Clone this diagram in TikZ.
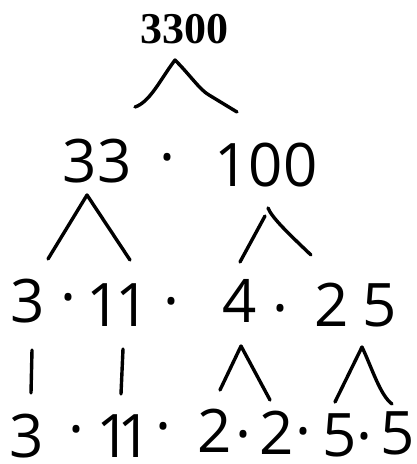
\documentclass[tikz,border=0pt]{standalone}
\usepackage{fontspec}
\setmainfont{Open Sans}
\newfontfamily\titlefont{Liberation Serif}
\begin{document}
\begin{tikzpicture}[x=1pt,y=-1pt,
  num/.style={anchor=base,inner sep=0pt,font=\fontsize{60}{60}\selectfont},
  title/.style={anchor=base,inner sep=0pt,font=\titlefont\bfseries\fontsize{44}{44}\selectfont},
  stroke/.style={line width=3.4pt,line cap=round,line join=round}]
\useasboundingbox (0,0) rectangle (417,464);
% title
\node[title] (n3300) at (184,43) {3300};
% row 2
\node[num] (n33) at (97,182) {33};
\node[num] (d21) at (167,178) {·};
\node[num] (n100) at (266,186) {100};
% row 3
\node[num] (r3a) at (28,322) {3};
\node[num] (d31) at (68,318) {·};
\node[num] (r3b) at (118,326) {1\kern-6pt1};
\node[num] (d32) at (171,322) {·};
\node[num] (r3c) at (240,322) {4};
\node[num] (d33) at (280,329) {·};
\node[num] (r3d) at (356,326) {2\kern14pt5};
% row 4
\node[num] (r4a) at (27,457) {3};
\node[num] (d41) at (76,450) {·};
\node[num] (r4b) at (124,457) {1\kern-13pt1};
\node[num] (d42) at (163,447) {·};
\node[num] (r4c) at (215,452) {2};
\node[num] (d43) at (243,455) {·};
\node[num] (r4d) at (277,454) {2};
\node[num] (d44) at (303,452) {·};
\node[num] (r4e) at (340,456) {5};
\node[num] (d45) at (364,457) {·};
\node[num] (r4f) at (398,454) {5};
% connectors
\coordinate (a0) at (175,60); \coordinate (a0l) at (135,107); \coordinate (a0r) at (237,112);
\draw[stroke] (a0l) .. controls (150,102) and (160,80) .. (a0) .. controls (190,75) and (200,90) .. (209,95) -- (a0r);
\coordinate (a1) at (87,195); \coordinate (a1l) at (48,259); \coordinate (a1r) at (130,260);
\draw[stroke] (a1l) -- (a1) -- (a1r);
\coordinate (a2) at (268,208); \coordinate (a2s) at (265,216); \coordinate (a2l) at (240,262); \coordinate (a2r) at (311,255);
\draw[stroke] (a2s) -- (a2l);
\draw[stroke] (a2) .. controls (272,218) and (290,235) .. (a2r);
\coordinate (v1t) at (32,350); \coordinate (v1b) at (31,393);
\draw[stroke] (v1t) -- (v1b);
\coordinate (v2t) at (123,349); \coordinate (v2b) at (121,394);
\draw[stroke] (v2t) -- (v2b);
\coordinate (a3) at (241,346); \coordinate (a3l) at (220,390); \coordinate (a3r) at (270,400);
\draw[stroke] (a3l) -- (a3) -- (a3r);
\coordinate (a4) at (362,347); \coordinate (a4l) at (335,402); \coordinate (a4r) at (392,404);
\draw[stroke] (a4l) -- (a4) .. controls (372,368) and (380,395) .. (a4r);
\end{tikzpicture}
\end{document}
